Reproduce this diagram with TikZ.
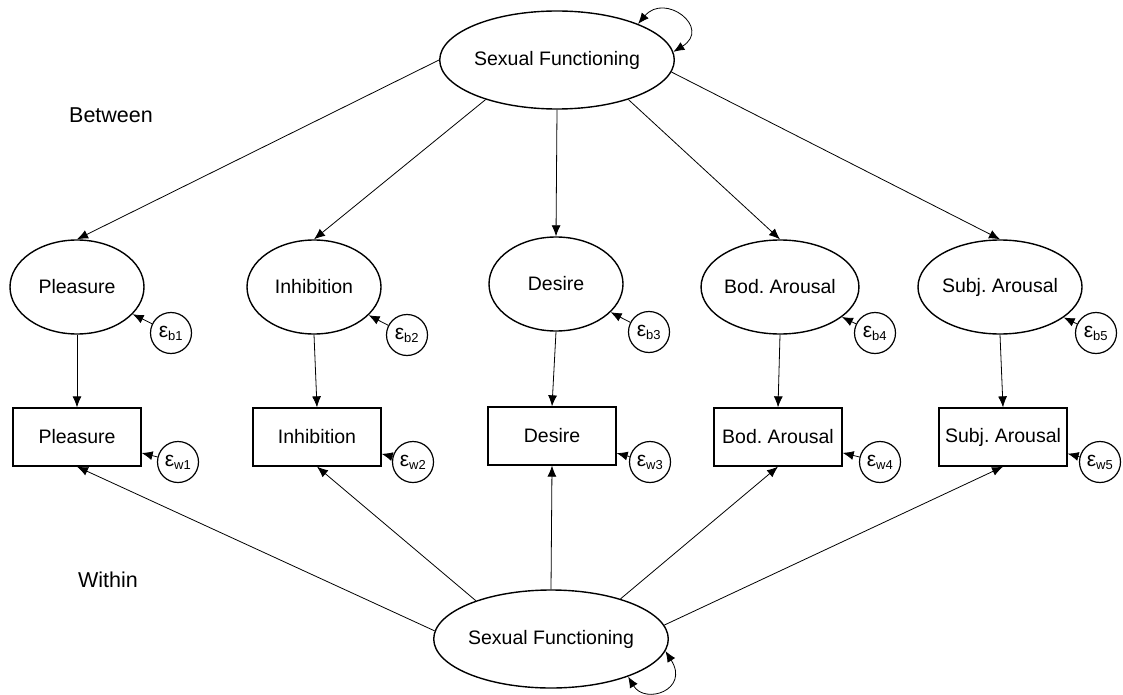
\documentclass[tikz,border=0pt]{standalone}
\usepackage{fontspec}
\setmainfont{Liberation Sans}
\frenchspacing
\usetikzlibrary{shapes.geometric,arrows.meta}
\tikzset{
  lat/.style={ellipse,draw,line width=1.4pt,minimum width=134pt,minimum height=94pt,inner sep=0pt,font=\fontsize{19.5}{22}\selectfont},
  big/.style={ellipse,draw,line width=1.4pt,minimum width=228pt,minimum height=98pt,inner sep=0pt,font=\fontsize{19.5}{22}\selectfont},
  obs/.style={rectangle,draw,line width=1.3pt,minimum width=128pt,minimum height=58pt,inner sep=0pt,font=\fontsize{19.5}{22}\selectfont},
  err/.style={circle,draw,line width=1.2pt,minimum size=41pt,inner sep=0pt,font=\fontsize{21}{22}\selectfont},
  arr/.style={-{Latex[length=11pt,width=9pt]},line width=0.8pt},
  darr/.style={{Latex[length=11pt,width=9pt]}-{Latex[length=11pt,width=9pt]},line width=0.8pt},
  lbl/.style={font=\fontsize{21.5}{23}\selectfont}
}
\newcommand{\eps}[1]{ε\textsubscript{\fontsize{13}{14}\selectfont #1}}
\begin{document}
\begin{tikzpicture}[x=1pt,y=-1pt]
\useasboundingbox (0,0) rectangle (1123,695);
\node[big] (top) at (557,60) {Sexual Functioning};
\node[big] (bot) at (551,639) {Sexual Functioning};
\node[lbl] (between) at (111,115) {Between};
\node[lbl] (within) at (108,580) {Within};

\node[lat] (l1) at (77,287) {Pleasure};
\node[lat] (l2) at (314,287) {Inhibition};
\node[lat] (l3) at (556,284) {Desire};
\node[lat] (l4) at (780,287) {Bod. Arousal};
\node[lat] (l5) at (1000,287) {Subj. Arousal};

\node[obs] (o1) at (77,437) {Pleasure};
\node[obs] (o2) at (317,437) {Inhibition};
\node[obs] (o3) at (552,436) {Desire};
\node[obs] (o4) at (778,437) {Bod. Arousal};
\node[obs] (o5) at (1003,437) {Subj. Arousal};

\node[err] (eb1) at (171,333) {\eps{b1}};
\node[err] (eb2) at (407,335) {\eps{b2}};
\node[err] (eb3) at (649,332) {\eps{b3}};
\node[err] (eb4) at (875,333) {\eps{b4}};
\node[err] (eb5) at (1096,333) {\eps{b5}};

\node[err] (ew1) at (178,462) {\eps{w1}};
\node[err] (ew2) at (413,462) {\eps{w2}};
\node[err] (ew3) at (650,462) {\eps{w3}};
\node[err] (ew4) at (880,462) {\eps{w4}};
\node[err] (ew5) at (1100,462) {\eps{w5}};

\draw[arr] (top.180) -- (l1.north);
\draw[arr] (top.209) -- (l2.north);
\draw[arr] (top.south) -- (l3.north);
\draw[arr] (top.-29) -- (l4.north);
\draw[arr] (top.-6) -- (l5.north);

\draw[arr] (bot.176) -- (o1.south);
\draw[arr] (bot.153) -- (o2.south);
\draw[arr] (bot.north) -- (o3.south);
\draw[arr] (bot.30) -- (o4.south);
\draw[arr] (bot.7) -- (o5.south);

\foreach \i in {1,...,5}{
  \draw[arr] (l\i.south) -- (o\i.north);
  \draw[arr] (eb\i) -- (l\i);
  \draw[arr] (ew\i) -- (o\i);
}
\draw[darr] (top.24) .. controls (665,-8) and (712,28) .. (top.4);
\draw[darr] (bot.-26) .. controls (645,705) and (690,690) .. (bot.-6);
\end{tikzpicture}
\end{document}
